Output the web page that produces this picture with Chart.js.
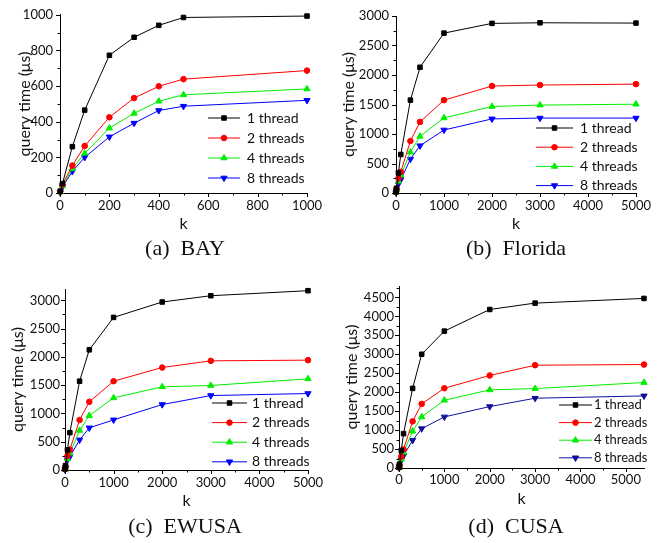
<!DOCTYPE html>
<html lang="en">
<head>
  <meta charset="UTF-8" />
  <title>query time vs k</title>
  <style>
    body { margin: 0; background: #fff; width: 672px; height: 543px; position: relative; overflow: hidden; }
    .panel { position: absolute; width: 336px; }
    .cap {
      position: absolute;
      font-family: 'Liberation Serif', serif;
      font-size: 22px;
      color: #111;
      white-space: pre;
      transform: translate(-50%, -50%);
    }
  </style>
  <script src="https://cdn.jsdelivr.net/npm/chart.js"></script>
</head>
<body>
  <div class="panel" style="left:0;top:0;height:271px"><canvas id="chA"></canvas></div>
  <div class="panel" style="left:336px;top:0;height:271px"><canvas id="chB"></canvas></div>
  <div class="panel" style="left:0;top:271px;height:272px"><canvas id="chC"></canvas></div>
  <div class="panel" style="left:336px;top:271px;height:272px"><canvas id="chD"></canvas></div>
  <div class="cap" style="left:185px;top:248px">(a)  BAY</div>
  <div class="cap" style="left:516px;top:248px">(b)  Florida</div>
  <div class="cap" style="left:185px;top:526px">(c)  EWUSA</div>
  <div class="cap" style="left:516px;top:526px">(d)  CUSA</div>
  <script>
    const seriesLabels = ['1 thread', '2 threads', '4 threads', '8 threads'];

    // (a) BAY
    const bayK = [1, 10, 50, 100, 200, 300, 400, 500, 1000];
    const bay1 = [10, 53, 260, 465, 773, 874, 941, 985, 993];
    const bay2 = [8, 48, 154, 264, 425, 533, 599, 639, 687];
    const bay4 = [5, 40, 136, 223, 364, 447, 515, 551, 584];
    const bay8 = [3, 35, 121, 200, 315, 392, 463, 487, 520];

    // (b) Florida
    const flK = [1, 10, 50, 100, 300, 500, 1000, 2000, 3000, 5000];
    const fl1 = [20, 80, 341, 653, 1574, 2131, 2710, 2875, 2885, 2880];
    const fl2 = [15, 70, 250, 358, 881, 1205, 1574, 1813, 1830, 1845];
    const fl4 = [10, 55, 200, 301, 693, 960, 1273, 1466, 1490, 1505];
    const fl8 = [5, 45, 150, 227, 574, 801, 1068, 1256, 1270, 1270];

    // (c) EWUSA
    const ewK = [1, 10, 50, 100, 300, 500, 1000, 2000, 3000, 5000];
    const ew1 = [20, 80, 355, 661, 1570, 2125, 2698, 2970, 3081, 3170];
    const ew2 = [15, 60, 250, 360, 884, 1205, 1570, 1812, 1930, 1942];
    const ew4 = [10, 50, 200, 296, 700, 962, 1275, 1470, 1494, 1612];
    const ew8 = [5, 40, 177, 236, 532, 745, 886, 1157, 1316, 1352];

    // (d) CUSA
    const cuK = [1, 10, 50, 100, 300, 500, 1000, 2000, 3000, 5400];
    const cu1 = [20, 100, 465, 906, 2100, 3000, 3610, 4181, 4349, 4472];
    const cu2 = [15, 80, 300, 493, 1230, 1690, 2104, 2440, 2711, 2729];
    const cu4 = [10, 60, 230, 414, 969, 1347, 1788, 2060, 2095, 2254];
    const cu8 = [5, 40, 211, 325, 731, 1038, 1347, 1620, 1840, 1901];

    const FONT = 'Lato, "Open Sans", sans-serif';

    // tick positions every minor step, up to the last one inside the axis
    function tickValues(max, step) {
      const out = [];
      for (let v = 0; v <= max + 1e-9; v += step) out.push({ value: v });
      return out;
    }

    // major/minor tick marks pointing outward
    const tickMarks = {
      id: 'tickMarks',
      afterDraw(chart, args, opts) {
        const ctx = chart.ctx;
        const xs = chart.scales.x, ys = chart.scales.y;
        ctx.save();
        ctx.strokeStyle = '#000';
        ctx.lineWidth = 1;
        xs.ticks.forEach(t => {
          const px = Math.round(xs.getPixelForValue(t.value)) + 0.5;
          const len = t.value % opts.xMajor === 0 ? 4 : 2.5;
          ctx.beginPath();
          ctx.moveTo(px, ys.bottom);
          ctx.lineTo(px, ys.bottom + len);
          ctx.stroke();
        });
        ys.ticks.forEach(t => {
          const py = Math.round(ys.getPixelForValue(t.value)) + 0.5;
          const len = t.value % opts.yMajor === 0 ? 4 : 2.5;
          ctx.beginPath();
          ctx.moveTo(xs.left, py);
          ctx.lineTo(xs.left - len, py);
          ctx.stroke();
        });
        ctx.restore();
      }
    };

    // legend drawn inside the plot area
    const innerLegend = {
      id: 'innerLegend',
      afterDatasetsDraw(chart, args, opts) {
        const ctx = chart.ctx;
        ctx.save();
        chart.data.datasets.forEach((ds, i) => {
          const y = opts.y + i * opts.gap;
          ctx.strokeStyle = ds.borderColor;
          ctx.fillStyle = ds.backgroundColor;
          ctx.lineWidth = 1;
          ctx.beginPath();
          ctx.moveTo(opts.x, y);
          ctx.lineTo(opts.x + opts.len, y);
          ctx.stroke();
          Chart.helpers.drawPoint(ctx, {
            pointStyle: ds.pointStyle,
            rotation: ds.pointRotation || 0,
            radius: ds.pointRadius,
            borderWidth: 1
          }, opts.x + opts.len / 2, y);
          ctx.fillStyle = '#111';
          ctx.font = opts.size + 'px ' + FONT;
          ctx.textBaseline = 'middle';
          ctx.fillText(ds.label, opts.textX, y);
        });
        ctx.restore();
      }
    };

    function makeDatasets(k, vals, blue) {
      const colors = ['#000000', '#ff0000', '#00ee00', blue];
      const styles = ['rect', 'circle', 'triangle', 'triangle'];
      const rot = [0, 0, 0, 180];
      const rad = [3.2, 2.8, 3.6, 3.6];
      return vals.map((v, i) => ({
        label: seriesLabels[i],
        data: k.map((kk, j) => ({ x: kk, y: v[j] })),
        borderColor: colors[i],
        backgroundColor: colors[i],
        borderWidth: 1,
        pointStyle: styles[i],
        pointRotation: rot[i],
        pointRadius: rad[i],
        pointBorderWidth: 1,
        clip: false,
        tension: 0
      }));
    }

    function makeChart(id, p) {
      new Chart(document.getElementById(id), {
        type: 'line',
        data: { datasets: makeDatasets(p.k, p.vals, p.blue || '#0000ff') },
        options: {
          responsive: true,
          maintainAspectRatio: false,
          animation: false,
          layout: { padding: { left: 0, top: p.top, right: p.right, bottom: p.padBottom } },
          plugins: {
            legend: { display: false },
            tooltip: { enabled: false },
            tickMarks: { xMajor: p.xMajor, yMajor: p.yMajor },
            innerLegend: p.legend
          },
          scales: {
            x: {
              type: 'linear',
              min: 0, max: p.xMax,
              grid: { display: false, drawTicks: false },
              border: { display: true, color: '#000', width: 1 },
              afterFit: s => { s.height = p.xH; },
              afterBuildTicks: s => { s.ticks = tickValues(p.xMax, p.xMinor); },
              ticks: {
                autoSkip: false, maxRotation: 0,
                padding: p.xPad, color: '#111', font: { family: FONT, size: 13 },
                callback: v => (v % p.xMajor === 0 ? String(v) : '')
              },
              title: { display: true, text: 'k', color: '#111', font: { family: FONT, size: 16 }, padding: { top: 0, bottom: 0 } }
            },
            y: {
              type: 'linear',
              min: 0, max: p.yMax,
              grid: { display: false, drawTicks: false },
              border: { display: true, color: '#000', width: 1 },
              afterFit: s => { s.width = p.yW; },
              afterBuildTicks: s => { s.ticks = tickValues(p.yMax, p.yMinor); },
              ticks: {
                autoSkip: false,
                padding: p.yPad, color: '#111', font: { family: FONT, size: 13 },
                callback: v => (v % p.yMajor === 0 ? String(v) : '')
              },
              title: { display: true, text: 'query time (μs)', color: '#111', font: { family: FONT, size: 16 }, padding: { top: p.yTitlePad, bottom: 0 } }
            }
          }
        },
        plugins: [tickMarks, innerLegend]
      });
    }

    makeChart('chA', {
      k: bayK, vals: [bay1, bay2, bay4, bay8],
      xMax: 1000, xMinor: 100, xMajor: 200, yMax: 1000, yMinor: 100, yMajor: 200,
      top: 11, right: 29, padBottom: 38, xH: 40, yW: 60, xPad: 5, yPad: 7, yTitlePad: 15,
      legend: { x: 208, y: 118, gap: 20, len: 32, textX: 247, size: 14 }
    });
    makeChart('chB', {
      k: flK, vals: [fl1, fl2, fl4, fl8],
      xMax: 5000, xMinor: 500, xMajor: 1000, yMax: 3000, yMinor: 250, yMajor: 500,
      top: 16, right: 36, padBottom: 38, xH: 40, yW: 60, xPad: 5, yPad: 7, yTitlePad: 3,
      legend: { x: 200, y: 128, gap: 19.2, len: 37, textX: 244, size: 14 }
    });
    makeChart('chC', {
      k: ewK, vals: [ew1, ew2, ew4, ew8],
      xMax: 5000, xMinor: 500, xMajor: 1000, yMax: 3200, yMinor: 250, yMajor: 500,
      top: 18, right: 28, padBottom: 33, xH: 40, yW: 65, xPad: 5, yPad: 5, yTitlePad: 8,
      legend: { x: 212, y: 132, gap: 19.6, len: 35, textX: 252, size: 14 }
    });
    makeChart('chD', {
      k: cuK, vals: [cu1, cu2, cu4, cu8], blue: '#10109a',
      xMax: 5400, xMinor: 500, xMajor: 1000, yMax: 4800, yMinor: 250, yMajor: 500,
      top: 15, right: 28, padBottom: 35, xH: 40, yW: 63, xPad: 4, yPad: 5, yTitlePad: 6,
      legend: { x: 223, y: 134, gap: 17.6, len: 33, textX: 258, size: 13 }
    });
  </script>
</body>
</html>
